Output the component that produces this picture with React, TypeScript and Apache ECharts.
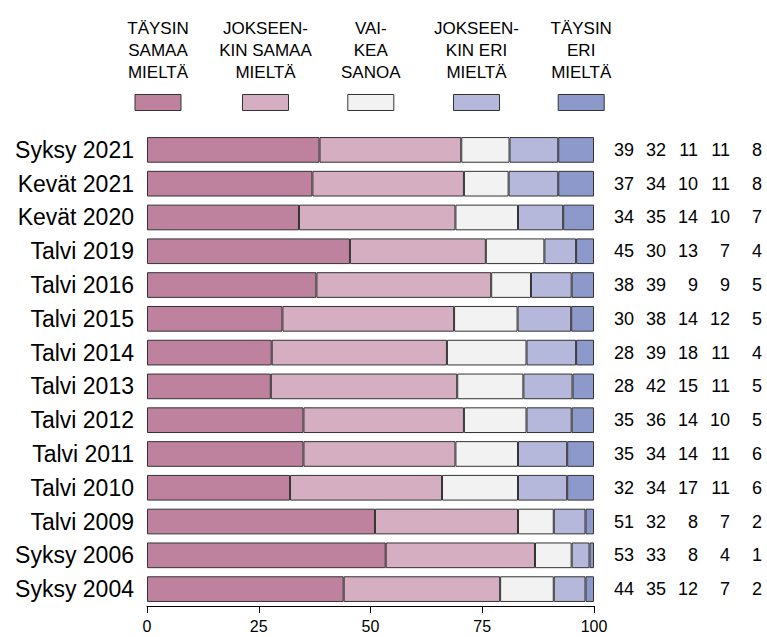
import React, { useEffect, useRef } from "react";
import * as echarts from "echarts";

const categories = [
  "Syksy 2021", "Kevät 2021", "Kevät 2020", "Talvi 2019", "Talvi 2016", "Talvi 2015", "Talvi 2014",
  "Talvi 2013", "Talvi 2012", "Talvi 2011", "Talvi 2010", "Talvi 2009", "Syksy 2006", "Syksy 2004",
];

const seriesNames = [
  "TÄYSIN\nSAMAA\nMIELTÄ",
  "JOKSEEN-\nKIN SAMAA\nMIELTÄ",
  "VAI-\nKEA\nSANOA",
  "JOKSEEN-\nKIN ERI\nMIELTÄ",
  "TÄYSIN\nERI\nMIELTÄ",
];

const taysinSamaa = [38.6, 37.0, 34.0, 45.4, 37.9, 30.3, 27.9, 27.7, 35.0, 35.0, 32.0, 51.0, 53.4, 44.0];
const jokseenkinSamaa = [31.7, 33.9, 35.0, 30.4, 39.1, 38.4, 39.2, 41.7, 35.9, 34.0, 34.0, 32.0, 33.4, 35.0];
const vaikeaSanoa = [10.8, 10.0, 14.0, 13.1, 8.9, 14.2, 17.8, 14.8, 14.0, 14.0, 17.0, 8.0, 8.2, 12.0];
const jokseenkinEri = [10.9, 11.1, 10.1, 7.1, 9.1, 12.0, 11.1, 11.0, 10.1, 11.0, 11.0, 7.1, 4.0, 7.1];
const taysinEri = [8.0, 8.0, 6.9, 4.0, 5.0, 5.1, 4.0, 4.8, 5.0, 6.0, 6.0, 1.9, 1.0, 1.9];

const xTicks = [0, 25, 50, 75, 100];

const colors = ["#BE829F", "#D6AEC1", "#F1F2F1", "#B5B8DA", "#8E99CB"];

const FONT = "'Liberation Sans', Arial, Helvetica, sans-serif";

export default function App() {
  const ref = useRef<HTMLDivElement>(null);

  useEffect(() => {
    document.body.style.margin = "0";
    if (!ref.current) return;
    const chart = echarts.init(ref.current, null, { renderer: "svg" });
    const values = [taysinSamaa, jokseenkinSamaa, vaikeaSanoa, jokseenkinEri, taysinEri];

    const gridLeft = 147;
    const gridRight = 173;
    const gridTop = 133;
    const gridBottom = 31;

    const legendCenters = [158, 265.5, 370.8, 476.5, 581.2];
    const legendGraphics: any[] = [];
    seriesNames.forEach((name, i) => {
      legendGraphics.push({
        type: "text",
        x: legendCenters[i],
        y: 17,
        style: {
          text: name,
          fill: "#000",
          font: `17px ${FONT}`,
          lineHeight: 22,
          textAlign: "center",
          textVerticalAlign: "top",
        },
      });
      legendGraphics.push({
        type: "rect",
        shape: { x: legendCenters[i] - 23, y: 94.5, width: 46, height: 16 },
        style: { fill: colors[i], stroke: "#333", lineWidth: 1 },
      });
    });

    const rightMargins = [40, 72, 104, 136, 168];
    const rightAxes = values.map((arr, k) => ({
      type: "category",
      position: "right",
      inverse: true,
      data: categories,
      axisLine: { show: false },
      axisTick: { show: false },
      axisLabel: {
        margin: rightMargins[k],
        align: "right",
        fontSize: 18,
        fontFamily: FONT,
        color: "#000",
        formatter: (_v: string, idx: number) => String(Math.round(arr[idx])),
      },
    }));

    chart.setOption({
      animation: false,
      backgroundColor: "#fff",
      grid: { left: gridLeft, right: gridRight, top: gridTop, bottom: gridBottom, containLabel: false },
      graphic: legendGraphics,
      xAxis: {
        type: "value",
        min: xTicks[0],
        max: xTicks[xTicks.length - 1],
        interval: 25,
        splitLine: { show: false },
        axisLine: { show: true, lineStyle: { color: "#000", width: 1 } },
        axisTick: { show: true, length: 7, lineStyle: { color: "#000" } },
        axisLabel: { fontSize: 16, fontFamily: FONT, color: "#000", margin: 12 },
      },
      yAxis: [
        {
          type: "category",
          inverse: true,
          data: categories,
          axisLine: { show: false },
          axisTick: { show: false },
          axisLabel: { fontSize: 23, fontFamily: FONT, color: "#000", margin: 13 },
        },
        ...rightAxes,
      ],
      series: values.map((arr, i) => ({
        type: "bar",
        name: seriesNames[i],
        stack: "total",
        yAxisIndex: 0,
        data: arr,
        barCategoryGap: "24%",
        itemStyle: { color: colors[i], borderColor: "#333", borderWidth: 1 },
      })),
    });

    return () => chart.dispose();
  }, []);

  return <div ref={ref} style={{ width: 767, height: 637 }} />;
}
